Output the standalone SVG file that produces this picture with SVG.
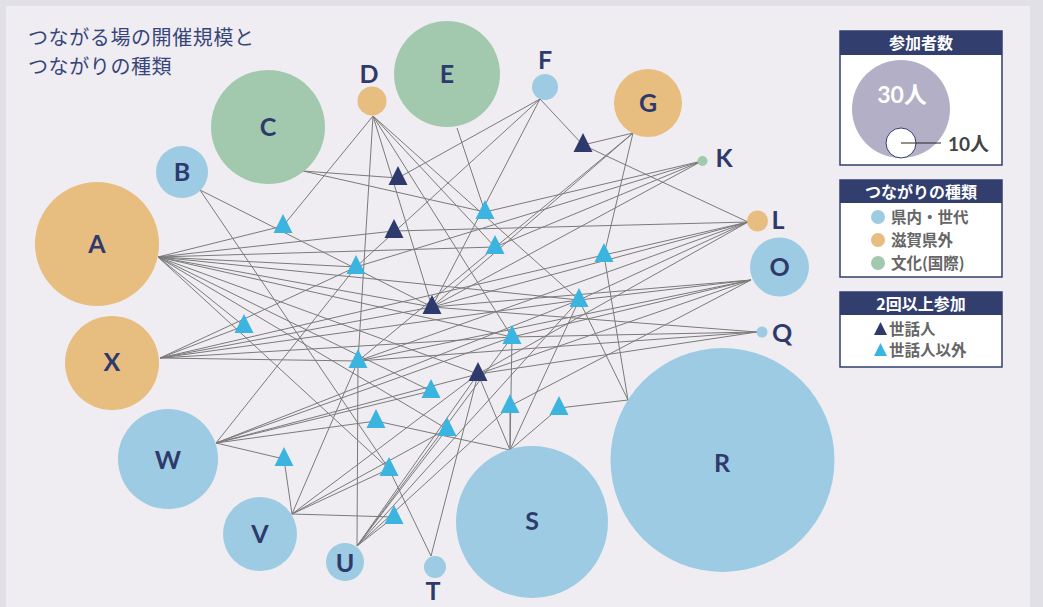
<svg xmlns="http://www.w3.org/2000/svg" xmlns:xlink="http://www.w3.org/1999/xlink" width="1043" height="607" viewBox="0 0 1043 607">
<defs>
<style>
.bg{fill:#e2e0e7}
.panel{fill:#efedf1}
.ln line{stroke:#7a7a7a;stroke-width:1;fill:none}
.pb{fill:#9ccbe3}
.po{fill:#e8bd80}
.pg{fill:#a2c9ad}
.lab{font-family:Lato,"Noto Sans",sans-serif;font-weight:700;font-size:25px;fill:#2f3a6c;text-anchor:middle}
.title{font-family:"Noto Sans CJK JP",sans-serif;font-size:20px;letter-spacing:0.6px;fill:#38457a}
.tdark{fill:#2f3a6c}
.tlight{fill:#3bb4e0}
.box{fill:#ffffff;stroke:#323e6e;stroke-width:1.5}
.hdr{fill:#323e6e}
.htx{font-family:"Noto Sans CJK JP",sans-serif;font-weight:700;font-size:16px;fill:#ffffff;text-anchor:middle}
.itx{font-family:"Noto Sans CJK JP",sans-serif;font-weight:700;font-size:15.5px;fill:#666666}
</style>
<path id="tri" d="M0,0 L9.5,19 L-9.5,19 Z"/>
</defs>
<rect class="bg" x="0" y="0" width="1043" height="607"/>
<rect class="panel" x="6" y="6" width="1024" height="610"/>
<g id="title">
<text class="title" x="28" y="45">つながる場の開催規模と</text>
<text class="title" x="28" y="74">つながりの種類</text>
</g>
<g id="connectors" class="ln">
<line x1="158" y1="257" x2="283" y2="226"/>
<line x1="158" y1="257" x2="394" y2="231"/>
<line x1="158" y1="257" x2="495" y2="247"/>
<line x1="158" y1="257" x2="356" y2="267"/>
<line x1="158" y1="257" x2="579" y2="300"/>
<line x1="158" y1="257" x2="432" y2="307"/>
<line x1="158" y1="257" x2="512" y2="337"/>
<line x1="158" y1="257" x2="478" y2="374"/>
<line x1="158" y1="257" x2="431" y2="391"/>
<line x1="158" y1="257" x2="244" y2="326"/>
<line x1="158" y1="257" x2="389" y2="469"/>
<line x1="158" y1="257" x2="447" y2="429"/>
<line x1="200" y1="190" x2="432" y2="307"/>
<line x1="200" y1="190" x2="389" y2="469"/>
<line x1="303" y1="171" x2="398" y2="178"/>
<line x1="303" y1="171" x2="485" y2="212"/>
<line x1="373" y1="116" x2="283" y2="226"/>
<line x1="373" y1="116" x2="358" y2="361"/>
<line x1="373" y1="116" x2="432" y2="307"/>
<line x1="373" y1="116" x2="512" y2="337"/>
<line x1="373" y1="116" x2="495" y2="247"/>
<line x1="373" y1="116" x2="579" y2="300"/>
<line x1="457" y1="128" x2="485" y2="212"/>
<line x1="540" y1="99" x2="398" y2="178"/>
<line x1="540" y1="99" x2="356" y2="267"/>
<line x1="540" y1="99" x2="432" y2="307"/>
<line x1="540" y1="99" x2="583" y2="145"/>
<line x1="633" y1="133" x2="583" y2="145"/>
<line x1="633" y1="133" x2="432" y2="307"/>
<line x1="633" y1="133" x2="358" y2="361"/>
<line x1="633" y1="133" x2="604" y2="255"/>
<line x1="702" y1="161" x2="485" y2="212"/>
<line x1="702" y1="161" x2="356" y2="267"/>
<line x1="702" y1="161" x2="495" y2="247"/>
<line x1="702" y1="161" x2="432" y2="307"/>
<line x1="748" y1="222" x2="583" y2="145"/>
<line x1="748" y1="222" x2="394" y2="231"/>
<line x1="748" y1="222" x2="604" y2="255"/>
<line x1="748" y1="222" x2="432" y2="307"/>
<line x1="748" y1="222" x2="358" y2="361"/>
<line x1="748" y1="222" x2="579" y2="300"/>
<line x1="748" y1="222" x2="478" y2="374"/>
<line x1="751" y1="280" x2="432" y2="307"/>
<line x1="751" y1="280" x2="579" y2="300"/>
<line x1="751" y1="280" x2="358" y2="361"/>
<line x1="751" y1="280" x2="512" y2="337"/>
<line x1="751" y1="280" x2="478" y2="374"/>
<line x1="751" y1="280" x2="510" y2="406"/>
<line x1="757" y1="332" x2="432" y2="307"/>
<line x1="757" y1="332" x2="512" y2="337"/>
<line x1="757" y1="332" x2="358" y2="361"/>
<line x1="757" y1="332" x2="478" y2="374"/>
<line x1="628" y1="400" x2="604" y2="255"/>
<line x1="628" y1="400" x2="579" y2="300"/>
<line x1="628" y1="400" x2="559" y2="408"/>
<line x1="510" y1="450" x2="376" y2="421"/>
<line x1="510" y1="450" x2="478" y2="374"/>
<line x1="510" y1="450" x2="510" y2="406"/>
<line x1="510" y1="450" x2="512" y2="337"/>
<line x1="510" y1="450" x2="559" y2="408"/>
<line x1="510" y1="450" x2="579" y2="300"/>
<line x1="431" y1="556" x2="389" y2="469"/>
<line x1="431" y1="556" x2="478" y2="374"/>
<line x1="357" y1="546" x2="358" y2="361"/>
<line x1="357" y1="546" x2="394" y2="517"/>
<line x1="357" y1="546" x2="447" y2="429"/>
<line x1="357" y1="546" x2="478" y2="374"/>
<line x1="357" y1="546" x2="512" y2="337"/>
<line x1="357" y1="546" x2="579" y2="300"/>
<line x1="357" y1="546" x2="510" y2="406"/>
<line x1="292" y1="514" x2="284" y2="459"/>
<line x1="292" y1="514" x2="394" y2="517"/>
<line x1="292" y1="514" x2="358" y2="361"/>
<line x1="292" y1="514" x2="389" y2="469"/>
<line x1="292" y1="514" x2="478" y2="374"/>
<line x1="292" y1="514" x2="447" y2="429"/>
<line x1="216" y1="443" x2="284" y2="459"/>
<line x1="216" y1="443" x2="356" y2="267"/>
<line x1="216" y1="443" x2="376" y2="421"/>
<line x1="216" y1="443" x2="478" y2="374"/>
<line x1="216" y1="443" x2="512" y2="337"/>
<line x1="216" y1="443" x2="579" y2="300"/>
<line x1="216" y1="443" x2="431" y2="391"/>
<line x1="160" y1="358" x2="244" y2="326"/>
<line x1="160" y1="358" x2="356" y2="267"/>
<line x1="160" y1="358" x2="432" y2="307"/>
<line x1="160" y1="358" x2="358" y2="361"/>
<line x1="160" y1="358" x2="512" y2="337"/>
<line x1="160" y1="358" x2="579" y2="300"/>
<line x1="160" y1="358" x2="604" y2="255"/>
</g>
<g id="nodes">
<g id="node-A"><circle class="po" cx="97" cy="244" r="62"/><text class="lab" x="97" y="253">A</text></g>
<g id="node-B"><circle class="pb" cx="182" cy="172" r="26"/><text class="lab" x="182" y="181">B</text></g>
<g id="node-C"><circle class="pg" cx="268" cy="127" r="57"/><text class="lab" x="268" y="136">C</text></g>
<g id="node-D"><circle class="po" cx="372" cy="101" r="14.5"/><text class="lab" x="369" y="83">D</text></g>
<g id="node-E"><circle class="pg" cx="447" cy="74" r="53"/><text class="lab" x="447" y="83">E</text></g>
<g id="node-F"><circle class="pb" cx="545" cy="87" r="13"/><text class="lab" x="545" y="69">F</text></g>
<g id="node-G"><circle class="po" cx="648" cy="103" r="34"/><text class="lab" x="648" y="112">G</text></g>
<g id="node-K"><circle class="pg" cx="702.5" cy="161" r="5"/><text class="lab" x="724" y="167">K</text></g>
<g id="node-L"><circle class="po" cx="757.5" cy="221" r="10.5"/><text class="lab" x="778" y="229">L</text></g>
<g id="node-O"><circle class="pb" cx="779.5" cy="267" r="29.5"/><text class="lab" x="779.5" y="276">O</text></g>
<g id="node-Q"><circle class="pb" cx="762" cy="332" r="5.5"/><text class="lab" x="782" y="342">Q</text></g>
<g id="node-R"><circle class="pb" cx="722.5" cy="460" r="112"/><text class="lab" x="722" y="472">R</text></g>
<g id="node-S"><circle class="pb" cx="532" cy="522" r="76"/><text class="lab" x="532" y="530">S</text></g>
<g id="node-T"><circle class="pb" cx="435" cy="567" r="11"/><text class="lab" x="433" y="600">T</text></g>
<g id="node-U"><circle class="pb" cx="345" cy="562" r="19"/><text class="lab" x="345" y="572">U</text></g>
<g id="node-V"><circle class="pb" cx="260" cy="534" r="37"/><text class="lab" x="260" y="543">V</text></g>
<g id="node-W"><circle class="pb" cx="168" cy="459" r="50"/><text class="lab" x="168" y="469">W</text></g>
<g id="node-X"><circle class="po" cx="112" cy="363" r="47"/><text class="lab" x="112" y="371">X</text></g>
</g>
<g id="hubs">
<use xlink:href="#tri" class="tdark" x="398" y="166"/>
<use xlink:href="#tri" class="tdark" x="394" y="219"/>
<use xlink:href="#tri" class="tdark" x="432" y="295"/>
<use xlink:href="#tri" class="tdark" x="583" y="133"/>
<use xlink:href="#tri" class="tdark" x="478" y="362"/>
<use xlink:href="#tri" class="tlight" x="283" y="214"/>
<use xlink:href="#tri" class="tlight" x="356" y="255"/>
<use xlink:href="#tri" class="tlight" x="485" y="200"/>
<use xlink:href="#tri" class="tlight" x="495" y="235"/>
<use xlink:href="#tri" class="tlight" x="579" y="288"/>
<use xlink:href="#tri" class="tlight" x="604" y="243"/>
<use xlink:href="#tri" class="tlight" x="244" y="314"/>
<use xlink:href="#tri" class="tlight" x="358" y="349"/>
<use xlink:href="#tri" class="tlight" x="512" y="325"/>
<use xlink:href="#tri" class="tlight" x="431" y="379"/>
<use xlink:href="#tri" class="tlight" x="376" y="409"/>
<use xlink:href="#tri" class="tlight" x="447" y="417"/>
<use xlink:href="#tri" class="tlight" x="510" y="394"/>
<use xlink:href="#tri" class="tlight" x="559" y="396"/>
<use xlink:href="#tri" class="tlight" x="284" y="447"/>
<use xlink:href="#tri" class="tlight" x="389" y="457"/>
<use xlink:href="#tri" class="tlight" x="394" y="505"/>
</g>
<g id="legend-size">
<rect class="box" x="840" y="31" width="162" height="134"/>
<rect class="hdr" x="840" y="31" width="162" height="24"/>
<text class="htx" x="921" y="49">参加者数</text>
<circle cx="901" cy="109" r="49" fill="#b2afc6"/>
<text x="902" y="103" font-family="Lato,'Noto Sans CJK JP',sans-serif" font-weight="700" font-size="23" fill="#ffffff" text-anchor="middle">30人</text>
<circle cx="901" cy="143" r="15" fill="#ffffff" stroke="#323e6e" stroke-width="1"/>
<line x1="901" y1="143" x2="941" y2="143" stroke="#222222" stroke-width="1"/>
<text x="948" y="151" font-family="Lato,'Noto Sans CJK JP',sans-serif" font-weight="700" font-size="19" fill="#444444">10人</text>
</g>
<g id="legend-type">
<rect class="box" x="840" y="180" width="162" height="97"/>
<rect class="hdr" x="840" y="180" width="162" height="23"/>
<text class="htx" x="921" y="198">つながりの種類</text>
<circle class="pb" cx="878" cy="217" r="7"/>
<text class="itx" x="891" y="223">県内・世代</text>
<circle class="po" cx="878" cy="240" r="7"/>
<text class="itx" x="891" y="246">滋賀県外</text>
<circle class="pg" cx="878" cy="263" r="7"/>
<text class="itx" x="891" y="269">文化(国際)</text>
</g>
<g id="legend-repeat">
<rect class="box" x="840" y="292" width="162" height="75"/>
<rect class="hdr" x="840" y="292" width="162" height="23"/>
<text class="htx" x="921" y="310">2回以上参加</text>
<polygon class="tdark" points="880.5,322 887,335 874,335"/>
<text class="itx" x="889" y="335">世話人</text>
<polygon class="tlight" points="880.5,343 887,356 874,356"/>
<text class="itx" x="889" y="356">世話人以外</text>
</g>
</svg>
